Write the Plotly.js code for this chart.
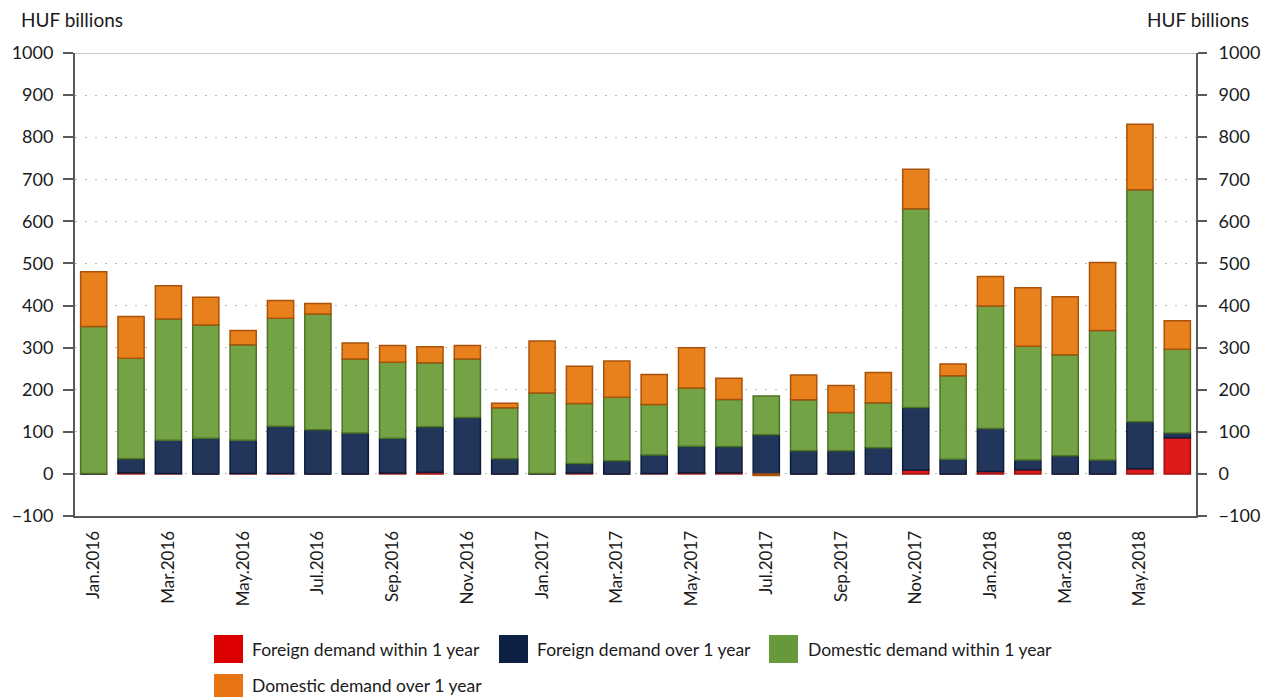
<!DOCTYPE html>
<html>
<head>
<meta charset="utf-8">
<script src="https://cdn.plot.ly/plotly-3.0.1.min.js"></script>
<style>
html,body{margin:0;padding:0;background:#fff;}
#chart{width:1262px;height:697px;}
</style>
</head>
<body>
<div id="chart"></div>
<script>
var months = ["Jan.2016","Feb.2016","Mar.2016","Apr.2016","May.2016","Jun.2016","Jul.2016","Aug.2016","Sep.2016","Oct.2016","Nov.2016","Dec.2016",
              "Jan.2017","Feb.2017","Mar.2017","Apr.2017","May.2017","Jun.2017","Jul.2017","Aug.2017","Sep.2017","Oct.2017","Nov.2017","Dec.2017",
              "Jan.2018","Feb.2018","Mar.2018","Apr.2018","May.2018","Jun.2018"];
var tickLabels = ["Jan.2016","Mar.2016","May.2016","Jul.2016","Sep.2016","Nov.2016","Jan.2017","Mar.2017","May.2017","Jul.2017","Sep.2017","Nov.2017","Jan.2018","Mar.2018","May.2018"];

var foreignWithin1y = [0,3,1,0,1,1,0,0,2,4,0,0, 0,2,0,1,3,3,0,0,0,0,9,0, 6,10,0,0,12,86];
var foreignOver1y   = [1,33,79,85,79,112,105,97,83,108,134,36, 1,23,31,44,63,62,93,55,55,62,149,35, 102,23,43,33,112,11];
var domesticWithin1y= [349,239,288,269,227,257,275,176,180,152,139,121, 191,142,151,120,138,112,92,121,91,107,472,198, 291,270,240,308,551,199];
var domesticOver1y  = [130,99,79,66,34,42,25,38,40,38,32,11, 124,89,86,71,96,50,-4,59,64,72,94,28, 70,139,138,161,156,68];

var seriesNames = ["Foreign demand within 1 year","Foreign demand over 1 year","Domestic demand within 1 year","Domestic demand over 1 year"];
var fills   = ["#de1a1a","#22355a","#73a345","#e8801c"];
var borders = ["#a01010","#0e1c3c","#4b7327","#a8520a"];
var legendColors = ["#dc0000","#0c2145","#66993a","#e87511"];
var seriesData = [foreignWithin1y, foreignOver1y, domesticWithin1y, domesticOver1y];

var FONT = "Lato, 'Open Sans', sans-serif";
var TXT = '#1a1a1a';

var traces = seriesData.map(function(d,i){
  return {
    type:'bar', x: months, y: d, name: seriesNames[i],
    marker:{color: fills[i], line:{color: borders[i], width:1.5}},
    showlegend:false, hoverinfo:'x+y+name'
  };
});
// invisible trace to anchor the right-hand axis
traces.push({type:'scatter', x:[months[0]], y:[0], yaxis:'y2', mode:'markers', marker:{opacity:0, size:1}, showlegend:false, hoverinfo:'skip'});

// custom legend
var legendPos = [
  {x0:214, x1:243, y0:635, y1:663, ty:649, tx:250},
  {x0:499, x1:528, y0:635, y1:663, ty:649, tx:535},
  {x0:769, x1:798, y0:635, y1:663, ty:649, tx:806},
  {x0:214, x1:243, y0:674, y1:702, ty:685, tx:250}
];
var L = 75, R = 1196, T = 53, B = 516;
function px(x){ return (x - L)/(R - L); }
function py(y){ return (B - y)/(B - T); }

var shapes = [
  {type:'line', xref:'paper', yref:'y', x0:0, x1:1, y0:1000, y1:1000, line:{color:'#c8c8c8', width:2}}
];
var annotations = [
  {text:'HUF billions', xref:'paper', yref:'paper', x:px(19), y:py(20), xanchor:'left', yanchor:'middle', showarrow:false, font:{family:FONT, size:19, color:TXT}},
  {text:'HUF billions', xref:'paper', yref:'paper', x:px(1251), y:py(20), xanchor:'right', yanchor:'middle', showarrow:false, font:{family:FONT, size:19, color:TXT}}
];
legendPos.forEach(function(p,i){
  shapes.push({type:'rect', xref:'paper', yref:'paper', x0:px(p.x0), x1:px(p.x1), y0:py(p.y0), y1:py(p.y1), fillcolor:legendColors[i], line:{width:0}});
  annotations.push({text:seriesNames[i], xref:'paper', yref:'paper', x:px(p.tx), y:py(p.ty), xanchor:'left', yanchor:'middle', showarrow:false, font:{family:FONT, size:17.5, color:TXT}});
});

var layout = {
  width:1262, height:697,
  margin:{l:L, r:1262-R, t:T, b:697-B, pad:0},
  paper_bgcolor:'#fff', plot_bgcolor:'#fff',
  barmode:'relative', bargap:0.3,
  font:{family:FONT, size:16, color:TXT},
  showlegend:false,
  xaxis:{
    type:'category', categoryorder:'array', categoryarray: months,
    range:[-0.5, months.length - 0.5], autorange:false,
    tickmode:'array', tickvals: tickLabels, ticktext: tickLabels,
    tickangle:-90, ticks:'', showgrid:false, zeroline:false,
    showline:true, linecolor:'#595959', linewidth:2,
    tickfont:{family:FONT, size:17, color:TXT}, automargin:false, ticklabelstandoff:6
  },
  yaxis:{
    range:[-100,1000], autorange:false, tickmode:'linear', tick0:-100, dtick:100,
    showgrid:true, gridcolor:'#bdbdbd', gridwidth:1, griddash:'2px,8px',
    zeroline:false, showline:true, linecolor:'#595959', linewidth:2,
    ticks:'outside', ticklen:10, tickwidth:2, tickcolor:'#595959',
    tickfont:{family:FONT, size:18, color:TXT}, automargin:false, ticklabelstandoff:6
  },
  yaxis2:{
    overlaying:'y', side:'right', range:[-100,1000], autorange:false, tickmode:'linear', tick0:-100, dtick:100,
    showgrid:false, zeroline:false, showline:true, linecolor:'#595959', linewidth:2,
    ticks:'outside', ticklen:9, tickwidth:2, tickcolor:'#595959',
    tickfont:{family:FONT, size:18, color:TXT}, automargin:false, ticklabelstandoff:8
  },
  shapes: shapes,
  annotations: annotations
};

Plotly.newPlot('chart', traces, layout, {displayModeBar:false, staticPlot:true});
</script>
</body>
</html>
